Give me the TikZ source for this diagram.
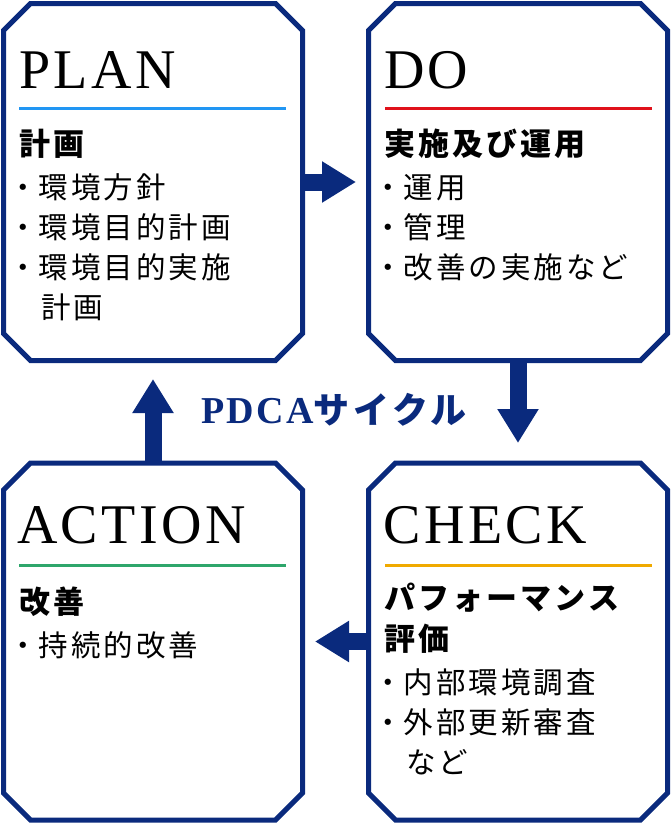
\documentclass[tikz,border=0pt]{standalone}
\usepackage{fontspec}
\usetikzlibrary{arrows.meta}
\newfontfamily\headfont[LetterSpace=6]{Liberation Serif}
\newfontfamily\jpfont[LetterSpace=10]{Noto Sans CJK JP}
\definecolor{navy}{RGB}{10,42,125}
\definecolor{planblue}{RGB}{33,150,243}
\definecolor{dored}{RGB}{224,18,27}
\definecolor{actgreen}{RGB}{46,166,107}
\definecolor{checkorange}{RGB}{240,170,0}
% octagon frame round a named box
\newcommand{\octbox}[1]{%
  \draw[boxline] ([xshift=27pt]#1.north west) -- ([xshift=-27pt]#1.north east)
    -- ([yshift=-27pt]#1.north east) -- ([yshift=27pt]#1.south east)
    -- ([xshift=-27pt]#1.south east) -- ([xshift=27pt]#1.south west)
    -- ([yshift=27pt]#1.south west) -- ([yshift=-27pt]#1.north west) -- cycle;}

\begin{document}
\begin{tikzpicture}[x=1pt,y=-1pt,
  box/.style={rectangle,minimum width=299pt,minimum height=357pt,inner sep=0pt,outer sep=0pt},
  boxline/.style={draw=navy,line width=5pt},
  headtxt/.style={anchor=base west,inner sep=0pt,font=\headfont\fontsize{56}{56}\selectfont},
  boldtxt/.style={anchor=base west,inner sep=0pt,font=\jpfont\bfseries\fontsize{31}{31}\selectfont},
  itemtxt/.style={anchor=base west,inner sep=0pt,font=\jpfont\fontsize{29.5}{29.5}\selectfont},
  flow/.style={navy,line width=17pt,-{Triangle[width=39pt,length=34pt]}}]
  \useasboundingbox (0,0) rectangle (671,823);
  % Boxes
  \node[box] (plan) at (153,182) {};
  \node[box] (do) at (518,182) {};
  \node[box] (action) at (153,641.5) {};
  \node[box] (check) at (518,641.5) {};
  \octbox{plan}
  \octbox{do}
  \octbox{action}
  \octbox{check}
  % Headings
  \node[headtxt] (planhead) at (19,88) {PLAN};
  \node[headtxt] (dohead) at (384,88) {DO};
  \node[headtxt] (actionhead) at (17,543) {ACTION};
  \node[headtxt] (checkhead) at (383.5,543) {CHECK};
  \draw[planblue,line width=3pt] (19,108) -- (286,108);
  \draw[dored,line width=3pt] (385,108) -- (652,108);
  \draw[actgreen,line width=3pt] (19,565) -- (286,565);
  \draw[checkorange,line width=3pt] (385,565) -- (652,565);
  % PLAN
  \node[boldtxt] (plantitle) at (19,155) {計画};
  \foreach \txt [count=\i] in {環境方針,環境目的計画,環境目的実施}
    \node[itemtxt] (planitem\i) at (8.25,{158+40*\i}) {・\hspace{1pt}\txt};
  \node[itemtxt] (planitem4) at (41,318) {計画};
  % DO
  \node[boldtxt] (dotitle) at (384,155) {実施及び運用};
  \foreach \txt [count=\i] in {運用,管理,改善の実施など}
    \node[itemtxt] (doitem\i) at (373.25,{158+40*\i}) {・\hspace{1pt}\txt};
  % ACTION
  \node[boldtxt] (actiontitle) at (19,613) {改善};
  \node[itemtxt] (actionitem1) at (8.25,656) {・\hspace{1pt}持続的改善};
  % CHECK
  \node[boldtxt] (checktitle1) at (384,609) {パフォーマンス};
  \node[boldtxt] (checktitle2) at (384,650) {評価};
  \foreach \txt [count=\i] in {内部環境調査,外部更新審査}
    \node[itemtxt] (checkitem\i) at (373.25,{653+40*\i}) {・\hspace{1pt}\txt};
  \node[itemtxt] (checkitem3) at (406,773) {など};
  % Cycle
  \node[anchor=base west,inner sep=0pt,text=navy] (cycle) at (201,423)
    {\headfont\bfseries\fontsize{38}{38}\selectfont PDCA\jpfont\fontsize{36}{36}\selectfont サイクル};
  % Arrows
  \draw[flow,shorten >=12.5pt] (plan.east) -- (do.west);
  \draw[flow,shorten >=20pt] (do.south) -- (check.north);
  \draw[flow,shorten >=12.5pt] (check.west) -- (action.east);
  \draw[flow,shorten >=18.5pt] (action.north) -- (plan.south);
\end{tikzpicture}
\end{document}
